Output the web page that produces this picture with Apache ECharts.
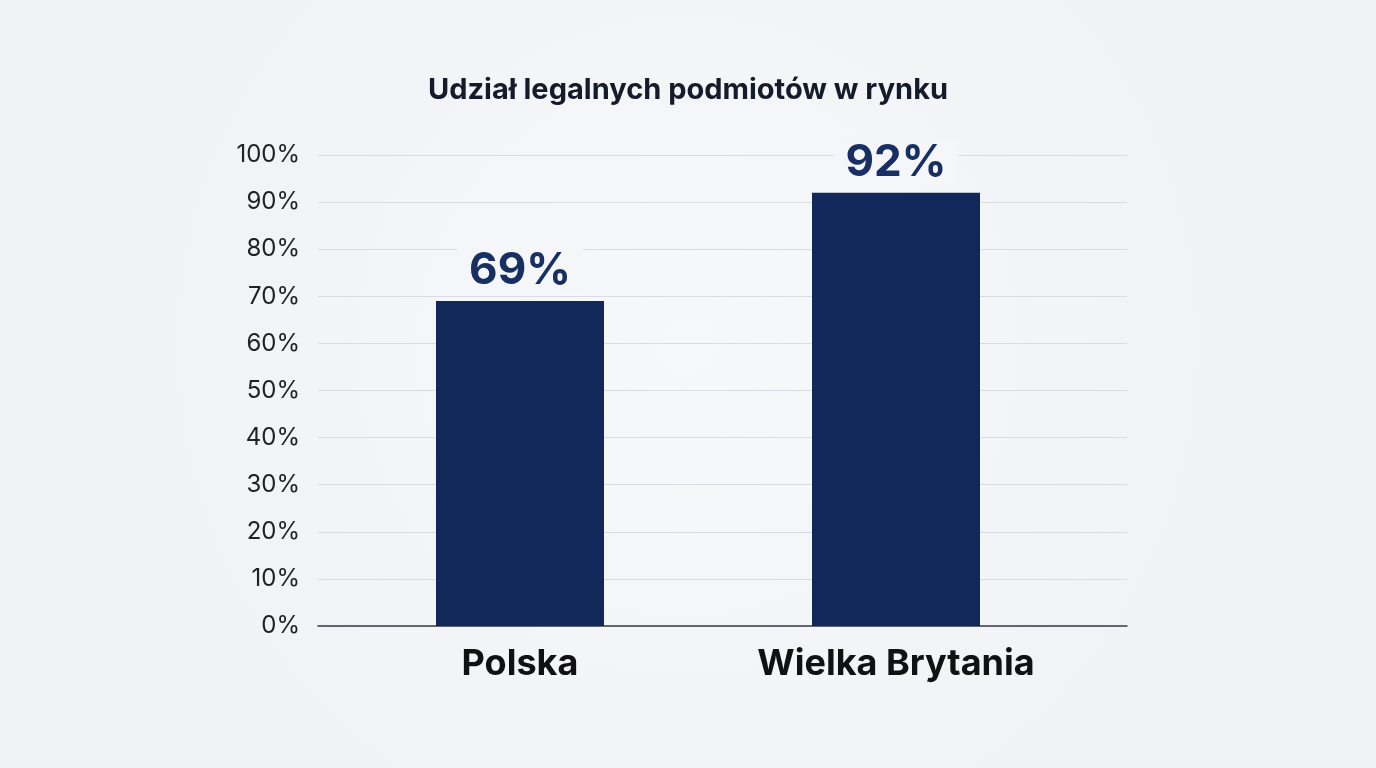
<!DOCTYPE html>
<html><head><meta charset="utf-8">
<script src="https://cdn.jsdelivr.net/npm/echarts@6/dist/echarts.min.js"></script>
<style>html,body{margin:0;padding:0;background:#f4f5f8;}#c{width:1376px;height:768px;}</style>
</head><body><div id="c"></div>
<script>
const categories = ['Polska', 'Wielka Brytania'];
const values = [69, 92];
const titleText = 'Udział legalnych podmiotów w rynku';
const bg = '#f5f6f9';
const chart = echarts.init(document.getElementById('c'));
chart.setOption({
  backgroundColor: new echarts.graphic.RadialGradient(0.5, 0.45, 0.75, [
    { offset: 0, color: '#f7f8fa' },
    { offset: 1, color: '#f0f2f5' }
  ]),
  title: { text: titleText, left: 'center', top: 71,
    textStyle: { fontFamily: 'Inter', fontSize: 29, fontWeight: 'bold', color: '#161b2b' } },
  grid: [
    { left: 318, right: 249, top: 155, bottom: 142 },
    { left: 332, right: 292, top: 155, bottom: 142 }
  ],
  xAxis: [
    { gridIndex: 0, type: 'value', min: 0, max: 1,
      axisLine: { show: true, lineStyle: { color: '#3a3d45', width: 1.5 } },
      axisTick: { show: false }, axisLabel: { show: false }, splitLine: { show: false } },
    { gridIndex: 1, type: 'category', data: categories,
      axisLine: { show: false }, axisTick: { show: false },
      axisLabel: { fontFamily: 'Inter', fontSize: 36, fontWeight: 'bold', color: '#111', margin: 20 } }
  ],
  yAxis: [
    { gridIndex: 0, type: 'value', min: 0, max: 100, interval: 10,
      axisLabel: { formatter: '{value}%', fontFamily: 'Inter', fontSize: 24, color: '#222', margin: 18 },
      splitLine: { lineStyle: { color: '#d9dce3', width: 1.2 } },
      axisLine: { show: false }, axisTick: { show: false } },
    { gridIndex: 1, type: 'value', min: 0, max: 100, interval: 10, show: false,
      splitLine: { show: false } }
  ],
  series: [{ type: 'bar', xAxisIndex: 1, yAxisIndex: 1, data: values, barWidth: 168,
    itemStyle: { color: '#13285a' },
    label: { show: true, position: 'top', distance: 8, formatter: '{c}%',
      fontFamily: 'Inter', fontSize: 44, fontWeight: 'bold', color: '#172f63',
      backgroundColor: bg, padding: [0, 12] } }]
});
</script></body></html>
